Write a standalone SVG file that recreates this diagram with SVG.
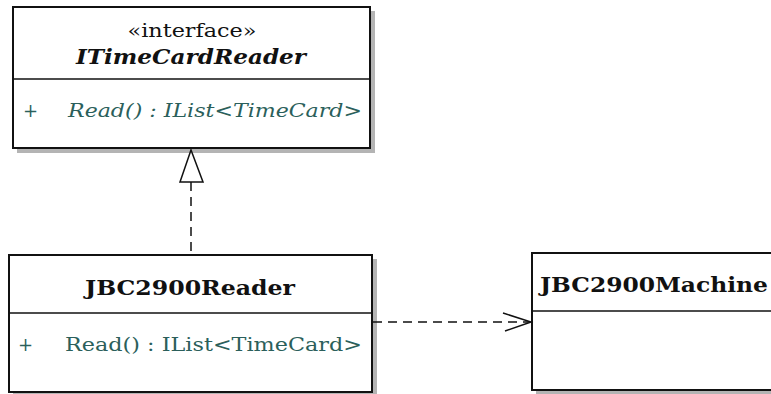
<svg xmlns="http://www.w3.org/2000/svg" width="771" height="394" viewBox="0 0 771 394">
<style>
.box{fill:#fff;stroke:#111;stroke-width:2}
.shadow{fill:#b4b4b4}
.div{stroke:#111;stroke-width:1.5}
.t{font-family:"DejaVu Serif","Liberation Serif",serif;fill:#111}
.m{font-family:"DejaVu Serif","Liberation Serif",serif;fill:#2b5f5b;font-size:18px}
.name{font-weight:bold;font-size:20px}
.edge{stroke:#111;stroke-width:1.5;fill:none}
</style>
<rect width="771" height="394" fill="#fff"/>
<g id="ITimeCardReader">
<rect class="shadow" x="17" y="11" width="358" height="142"/>
<rect class="box" x="13" y="7" width="357" height="141"/>
<line class="div" x1="13" y1="79" x2="370" y2="79"/>
<text class="t" x="192" y="37" text-anchor="middle" font-size="18" textLength="129" lengthAdjust="spacingAndGlyphs">«interface»</text>
<text class="t name" x="191" y="64" text-anchor="middle" font-style="italic" textLength="230" lengthAdjust="spacingAndGlyphs">ITimeCardReader</text>
<text class="m" x="23" y="117">+</text>
<text class="m" x="68" y="117" font-style="italic" textLength="294" lengthAdjust="spacingAndGlyphs">Read() : IList&lt;TimeCard&gt;</text>
</g>
<g id="JBC2900Reader">
<rect class="shadow" x="13" y="259" width="364" height="140"/>
<rect class="box" x="9" y="255" width="363" height="137"/>
<line class="div" x1="9" y1="313" x2="372" y2="313"/>
<text class="t name" x="190" y="295" text-anchor="middle" textLength="210" lengthAdjust="spacingAndGlyphs">JBC2900Reader</text>
<text class="m" x="18" y="351">+</text>
<text class="m" x="65" y="351" textLength="297" lengthAdjust="spacingAndGlyphs">Read() : IList&lt;TimeCard&gt;</text>
</g>
<g id="JBC2900Machine">
<rect class="shadow" x="536" y="257" width="260" height="137"/>
<rect class="box" x="532" y="253" width="260" height="137"/>
<line class="div" x1="532" y1="311" x2="771" y2="311"/>
<text class="t name" x="540" y="292" textLength="228" lengthAdjust="spacingAndGlyphs">JBC2900Machine</text>
</g>
<g id="connectors">
<line class="edge" x1="191" y1="182" x2="191" y2="254" stroke-dasharray="9,6"/>
<polygon points="191,150 180,182 203,182" fill="#fff" stroke="#111" stroke-width="1.5"/>
<line class="edge" x1="373" y1="322" x2="530" y2="322" stroke-dasharray="9,6"/>
<polyline class="edge" points="503,313 531,322 505,331"/>
</g>
</svg>
